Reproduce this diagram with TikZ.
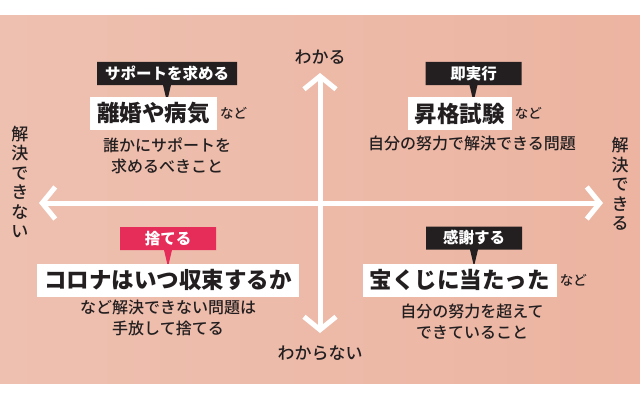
\documentclass[tikz,border=0pt]{standalone}
\usepackage{fontspec}
\setmainfont{Noto Sans CJK JP}
\newfontfamily\medfont{Noto Sans CJK JP Medium}
\usetikzlibrary{arrows.meta,shapes.callouts}
\definecolor{bgpink}{RGB}{238,192,176}
\definecolor{bgpinkb}{RGB}{236,180,161}
\definecolor{tagred}{RGB}{230,45,90}
\definecolor{ink}{RGB}{35,31,32}
\begin{document}
\begin{tikzpicture}[x=1pt, y=1pt, every node/.style = {inner sep=0pt, align=center, text=ink},
      tagbox/.style = {rectangle callout, fill=ink, text=white, font=\bfseries\fontsize{15.5}{17}\selectfont,
        minimum width=96pt, minimum height=23pt, inner xsep=8pt, callout relative pointer={(0pt,-17pt)}, callout pointer width=8pt},
      keyword/.style = {fill=white, font=\bfseries\fontsize{22.5}{24}\selectfont, inner xsep=7pt, minimum height=33pt},
      note/.style = {font=\medfont\fontsize{16}{20.5}\selectfont},
      etc/.style = {font=\medfont\fontsize{13.5}{15}\selectfont, anchor=west},
      axislabel/.style = {font=\medfont\fontsize{17}{19.5}\selectfont},
      axis/.style = {draw=white, line width=5pt, >={Straight Barb[length=13pt, width=32pt]}, <->}]
    \fill[white] (0,0) rectangle (640,400);
    \shade[left color=bgpink, right color=bgpinkb] (0,17) rectangle (640,384);
    \coordinate (west) at (39,197);
    \coordinate (east) at (603,197);
    \coordinate (north) at (320,327);
    \coordinate (south) at (320,67);
    \draw[axis] (west) -- (east);
    \draw[axis] (south) -- (north);
    \node[axislabel] (know) at (320,343) {わかる};
    \node[axislabel] (unknown) at (320,47) {わからない};
    \node[axislabel] (unsolvable) at (20,218) {解\\決\\で\\き\\な\\い};
    \node[axislabel] (solvable) at (620,216) {解\\決\\で\\き\\る};
    \node[tagbox] (support) at (167,326.5) {サポートを求める};
    \node[keyword] (illness) at (153.5,286.5) {離婚や病気};
    \node[etc] (illnessetc) at ([xshift=3pt]illness.east) {など};
    \node[note] (supportnote) at (167,244) {誰かにサポートを\\求めるべきこと};
    \node[tagbox] (now) at (473.5,326.5) {即実行};
    \node[keyword] (exam) at (459.5,286.5) {昇格試験};
    \node[etc] (exametc) at ([xshift=3pt]exam.east) {など};
    \node[note] (examnote) at (472,257) {自分の努力で解決できる問題};
    \node[tagbox, fill=tagred] (drop) at (168,161.5) {捨てる};
    \node[keyword] (corona) at (168,120) {コロナはいつ収束するか};
    \node[note] (coronanote) at (168,82) {など解決できない問題は\\手放して捨てる};
    \node[tagbox] (thanks) at (474,162) {感謝する};
    \node[keyword] (lottery) at (459.5,120) {宝くじに当たった};
    \node[etc] (lotteryetc) at ([xshift=3pt]lottery.east) {など};
    \node[note] (lotterynote) at (472,78.5) {自分の努力を超えて\\できていること};
\end{tikzpicture}
\end{document}
